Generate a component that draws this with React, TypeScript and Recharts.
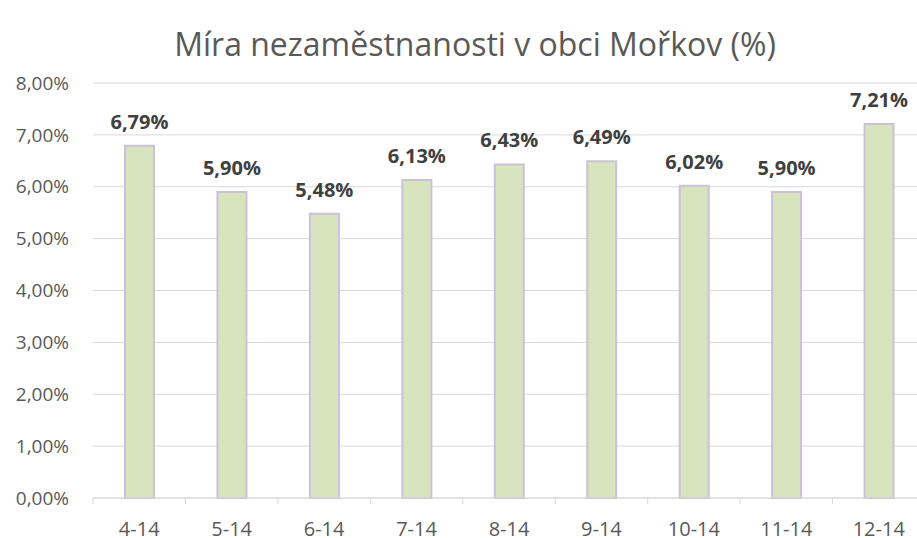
import { Bar, BarChart, CartesianGrid, LabelList, XAxis, YAxis } from "recharts"

const months = ["4-14", "5-14", "6-14", "7-14", "8-14", "9-14", "10-14", "11-14", "12-14"]
const rates = [6.79, 5.9, 5.48, 6.13, 6.43, 6.49, 6.02, 5.9, 7.21]
const yTicks = [0, 1, 2, 3, 4, 5, 6, 7, 8]

const data = months.map((month, i) => ({ month, rate: rates[i] }))

const font = "'Open Sans', 'Liberation Sans', sans-serif"
const fmt = (v: number) => v.toFixed(2).replace(".", ",") + "%"

const CHART_W = 925
const LEFT = 93
const BAND = (CHART_W - LEFT) / months.length

function MonthTick(props: any) {
  const { x, y, payload } = props
  return (
    <g>
      <line x1={x - BAND / 2} x2={x - BAND / 2} y1={y - 8} y2={y - 2} stroke="#d9d9d9" strokeWidth={1} />
      <text x={x} y={y + 30} textAnchor="middle" fill="#595959" fontSize={20} fontFamily={font}>
        {payload.value}
      </text>
    </g>
  )
}

export default function App() {
  return (
    <div style={{ position: "absolute", left: 0, top: 0, width: 917, height: 538, overflow: "hidden", background: "#fff" }}>
      <div
        style={{
          position: "absolute",
          top: 22,
          left: 0,
          width: 917,
          textAlign: "center",
          fontFamily: font,
          fontSize: 32,
          lineHeight: "44px",
          color: "#595959",
          paddingLeft: 33,
          boxSizing: "border-box",
        }}
      >
        Míra nezaměstnanosti v obci Mořkov (%)
      </div>
      <BarChart
        width={CHART_W}
        height={538}
        data={data}
        margin={{ top: 83, right: 0, bottom: 0, left: 0 }}
        barCategoryGap={0}
      >
        <CartesianGrid stroke="#d9d9d9" vertical={false} />
        <XAxis
          dataKey="month"
          axisLine={{ stroke: "#d9d9d9" }}
          tickLine={false}
          tick={<MonthTick />}
          interval={0}
          height={40}
        />
        <YAxis
          domain={[0, 8]}
          ticks={yTicks}
          width={LEFT}
          axisLine={false}
          tickLine={false}
          tickFormatter={fmt}
          tick={{ fill: "#595959", fontSize: 19, fontFamily: font, dx: -16 }}
        />
        <Bar dataKey="rate" fill="#d7e4bd" stroke="#ccc1da" strokeWidth={2} barSize={29} isAnimationActive={false}>
          <LabelList
            dataKey="rate"
            position="top"
            offset={17}
            formatter={(v: any) => fmt(Number(v))}
            style={{ fill: "#404040", fontSize: 20, fontWeight: 700, fontFamily: font }}
          />
        </Bar>
      </BarChart>
    </div>
  )
}
